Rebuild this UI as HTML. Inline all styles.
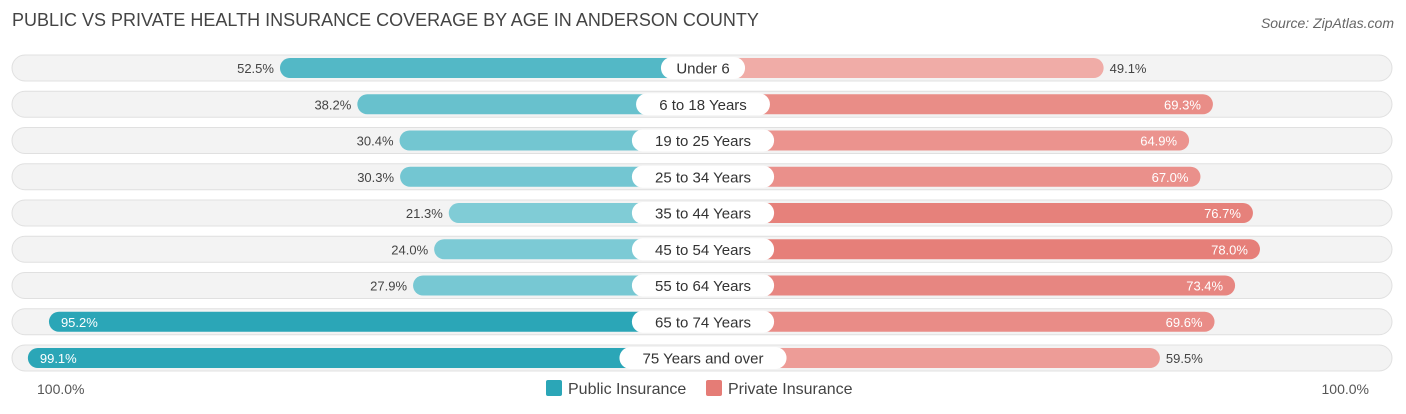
<!DOCTYPE html>
<html><head><meta charset="utf-8"><style>
body{margin:0;width:1406px;height:414px;background:#fff;font-family:"Liberation Sans",sans-serif;overflow:hidden;position:relative}
.t{position:absolute;white-space:nowrap}
</style></head><body>
<div class="t" style="left:12px;top:10px;font-size:18px;color:#444">PUBLIC VS PRIVATE HEALTH INSURANCE COVERAGE BY AGE IN ANDERSON COUNTY</div>
<div class="t" style="right:12px;top:15px;font-size:14px;color:#666;font-style:italic">Source: ZipAtlas.com</div>
<svg id="c" width="1406" height="414" style="position:absolute;left:0;top:0"></svg>
<div class="t" style="left:37px;top:381px;font-size:14px;color:#555">100.0%</div>
<div class="t" style="right:37px;top:381px;font-size:14px;color:#555">100.0%</div>
<div class="t" style="left:546px;top:380px;font-size:16px;color:#444"><span style="display:inline-block;width:16px;height:16px;background:#2ba6b7;vertical-align:-2px;margin-right:6px;border-radius:2px"></span>Public Insurance</div>
<div class="t" style="left:706px;top:380px;font-size:16px;color:#444"><span style="display:inline-block;width:16px;height:16px;background:#e57c76;vertical-align:-2px;margin-right:6px;border-radius:2px"></span>Private Insurance</div>
<script>
const categories=["Under 6","6 to 18 Years","19 to 25 Years","25 to 34 Years","35 to 44 Years","45 to 54 Years","55 to 64 Years","65 to 74 Years","75 Years and over"];
const publicVals=[52.5,38.2,30.4,30.3,21.3,24.0,27.9,95.2,99.1];
const privateVals=[49.1,69.3,64.9,67.0,76.7,78.0,73.4,69.6,59.5];
const svg=document.getElementById('c');const NS='http://www.w3.org/2000/svg';
const cx=703,k=5.41;
const pubX=v=>564-k*v, privX=v=>838+k*v;
const rowY=i=>68+i*36.25;
function mk(t,a){const e=document.createElementNS(NS,t);for(const n in a)e.setAttribute(n,a[n]);svg.appendChild(e);return e;}
function mix(a,b,t){return 'rgb('+a.map((x,i)=>Math.round(x+(b[i]-x)*t)).join(',')+')';}
categories.forEach((c,i)=>{
 const y=rowY(i);
 const tr=mk('rect',{x:12,y:y-13,width:1380,height:26,rx:13,fill:'#f3f3f3',stroke:'#e0e0e0'});
 
 
 const pv=publicVals[i],qv=privateVals[i];
 const tp=Math.min(1,Math.max(0,(pv-20)/60)),tq=Math.min(1,Math.max(0,(qv-45)/35));
 const pb=mk('rect',{x:pubX(pv),y:y-10,width:cx-pubX(pv),height:20,rx:10,fill:mix([130,205,215],[43,166,183],tp)});
 
 
 const qb=mk('rect',{x:cx,y:y-10,width:privX(qv)-cx,height:20,rx:10,fill:mix([242,178,174],[229,124,118],tq)});
 
 
 const w=c.length*8.3+26;
 const lb=mk('rect',{x:cx-w/2,y:y-11,width:w,height:22,rx:11,fill:'#fff'});
 
 
 const lt=mk('text',{x:cx,y:y+5.5,'text-anchor':'middle','font-size':15,fill:'#333'});lt.textContent=c;
 
 
 const pin=pv>60;
 const pt=mk('text',{x:pin?pubX(pv)+12:pubX(pv)-6,y:y+5,'text-anchor':pin?'start':'end','font-size':13,fill:pin?'#fff':'#444'});pt.textContent=pv.toFixed(1)+'%';
 
 
 const qin=qv>62;
 const qt=mk('text',{x:qin?privX(qv)-12:privX(qv)+6,y:y+5,'text-anchor':qin?'end':'start','font-size':13,fill:qin?'#fff':'#444'});qt.textContent=qv.toFixed(1)+'%';
 
 
});
</script>
</body></html>
